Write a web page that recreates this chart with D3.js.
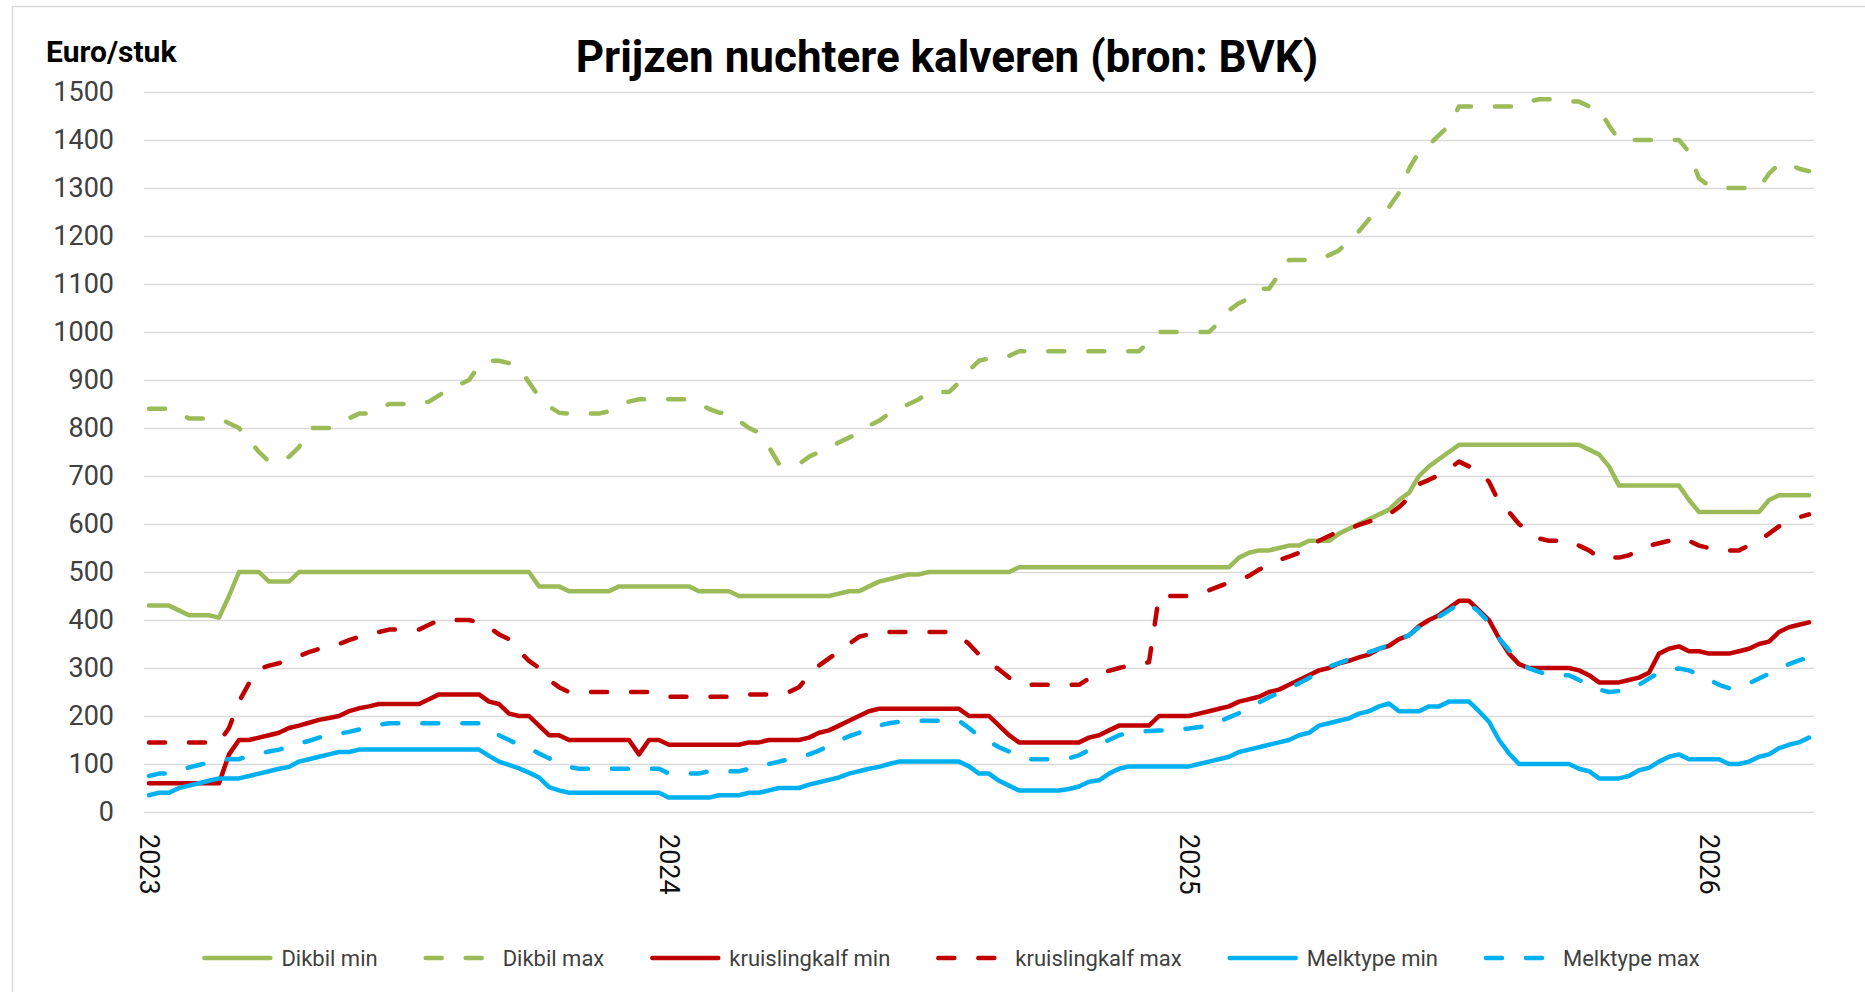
<!DOCTYPE html>
<html>
<head>
<meta charset="utf-8">
<script src="https://d3js.org/d3.v7.min.js"></script>
<style>
  body { margin: 0; background: #fff; }
  svg { display: block; font-family: Roboto, "Liberation Sans", Arial, sans-serif; }
  .gridlines line { stroke: #d9d9d9; stroke-width: 1.5; }
  .gridlines .domain { stroke: none; }
  .yaxis .domain { stroke: none; }
  .yaxis text { font-size: 27px; fill: #404040; font-family: Roboto, sans-serif; }
  .yearlabel { font-size: 27px; fill: #111; }
  .legend text { font-size: 22px; fill: #404040; }
  .series { fill: none; stroke-width: 4.5; stroke-linejoin: round; stroke-linecap: round; }
</style>
</head>
<body>
<svg id="chart" width="1865" height="992"></svg>
<script>
// weekly prices (euro/stuk), first week 2023 .. week 11 2026
const dikbilMin = [
  430,430,430,420,410,410,410,405,450,500,
  500,500,480,480,480,500,500,500,500,500,
  500,500,500,500,500,500,500,500,500,500,
  500,500,500,500,500,500,500,500,500,470,
  470,470,460,460,460,460,460,470,470,470,
  470,470,470,470,470,460,460,460,460,450,
  450,450,450,450,450,450,450,450,450,455,
  460,460,470,480,485,490,495,495,500,500,
  500,500,500,500,500,500,500,510,510,510,
  510,510,510,510,510,510,510,510,510,510,
  510,510,510,510,510,510,510,510,510,530,
  540,545,545,550,555,555,565,565,565,580,
  590,600,610,620,630,650,665,700,720,735,
  750,765,765,765,765,765,765,765,765,765,
  765,765,765,765,755,745,720,680,680,680,
  680,680,680,680,650,625,625,625,625,625,
  625,625,650,660,660,660,660
];
const dikbilMax = [
  840,840,840,830,820,820,820,820,810,800,
  775,750,730,730,740,760,800,800,800,810,
  820,830,830,840,850,850,850,850,855,868,
  880,890,900,930,940,940,935,925,895,865,
  845,832,830,830,830,830,835,845,855,860,
  860,860,860,860,860,850,840,832,830,815,
  800,790,760,725,725,725,740,750,760,770,
  780,790,805,815,830,840,850,860,875,875,
  875,895,920,940,945,950,950,960,960,960,
  960,960,960,960,960,960,960,960,960,960,
  980,1000,1000,1000,1000,1000,1000,1020,1045,1060,
  1070,1090,1090,1120,1150,1150,1150,1150,1160,1170,
  1190,1210,1235,1250,1260,1290,1340,1375,1390,1410,
  1430,1470,1470,1470,1470,1470,1470,1470,1480,1485,
  1485,1485,1480,1480,1470,1465,1430,1400,1400,1400,
  1400,1400,1400,1400,1375,1320,1305,1300,1300,1300,
  1300,1300,1330,1350,1350,1340,1335
];
const kruislingMin = [
  60,60,60,60,60,60,60,60,120,150,
  150,155,160,165,175,180,186,192,196,200,
  210,216,220,225,225,225,225,225,235,245,
  245,245,245,245,230,225,205,200,200,180,
  160,160,150,150,150,150,150,150,150,120,
  150,150,140,140,140,140,140,140,140,140,
  145,145,150,150,150,150,155,165,170,180,
  190,200,210,215,215,215,215,215,215,215,
  215,215,200,200,200,180,160,145,145,145,
  145,145,145,145,155,160,170,180,180,180,
  180,200,200,200,200,205,210,215,220,230,
  235,240,250,255,265,275,285,295,300,310,
  315,322,328,340,346,360,368,387,400,410,
  425,440,440,420,400,362,330,308,300,300,
  300,300,300,295,285,270,270,270,275,280,
  290,330,340,345,335,335,330,330,330,335,
  340,350,355,375,385,390,395
];
const kruislingMax = [
  145,145,145,145,145,145,145,145,175,230,
  268,298,305,310,318,325,333,340,345,350,
  358,365,370,375,380,380,380,380,390,400,
  400,400,400,395,385,370,360,335,315,300,
  275,260,250,250,250,250,250,250,250,250,
  250,246,240,240,240,240,240,240,240,240,
  245,245,245,250,250,260,285,305,320,335,
  350,365,370,375,375,375,375,375,375,375,
  375,368,350,328,312,297,280,268,265,265,
  265,265,265,265,278,290,294,300,305,308,
  312,450,450,450,450,455,462,470,478,483,
  492,505,515,525,532,540,555,565,575,585,
  590,598,605,612,620,635,655,683,692,702,
  715,730,720,710,688,646,625,600,584,570,
  565,565,566,555,545,530,530,530,535,545,
  555,560,565,570,565,555,550,545,545,545,
  555,565,580,595,605,614,620
];
const melktypeMin = [
  35,40,40,50,55,60,65,70,70,70,
  75,80,85,90,94,105,110,115,120,125,
  125,130,130,130,130,130,130,130,130,130,
  130,130,130,130,117,105,98,91,82,72,
  52,45,40,40,40,40,40,40,40,40,
  40,40,30,30,30,30,30,35,35,35,
  40,40,45,50,50,50,57,62,67,72,
  80,85,90,94,100,105,105,105,105,105,
  105,105,95,80,80,65,55,45,45,45,
  45,45,48,53,63,66,80,90,95,95,
  95,95,95,95,95,100,105,110,115,125,
  130,135,140,145,150,160,165,180,185,190,
  195,205,210,220,226,210,210,210,220,220,
  230,230,230,210,188,150,122,100,100,100,
  100,100,100,90,85,70,70,70,75,87,
  92,105,115,120,110,110,110,110,100,100,
  105,115,120,133,140,145,155
];
const melktypeMax = [
  75,80,80,85,93,98,103,107,110,110,
  117,122,126,130,136,143,148,155,160,163,
  167,172,178,182,185,185,185,185,185,185,
  185,185,185,185,172,160,150,140,133,122,
  112,102,94,90,90,90,90,90,90,90,
  90,90,80,80,80,80,85,85,85,85,
  90,90,100,105,110,115,120,128,138,148,
  158,165,175,180,185,188,190,190,190,190,
  190,190,175,158,147,135,126,118,110,110,
  110,110,112,118,129,140,150,160,165,167,
  169,170,170,172,174,177,180,188,197,206,
  217,228,239,248,258,268,279,293,303,310,
  318,325,333,340,348,360,368,385,397,407,
  420,434,434,417,395,362,337,313,299,292,
  285,285,285,275,265,255,250,252,254,265,
  278,290,296,299,295,285,276,265,258,260,
  268,278,288,300,308,316,322
];
const yearLabels = ["2023", "2024", "2025", "2026"];
const yearWeeks = [0, 52, 104, 156];
const yTicks = [0,100,200,300,400,500,600,700,800,900,1000,1100,1200,1300,1400,1500];

const series = [
  {name: "Dikbil min", values: dikbilMin, color: "#9bbb59", dashed: false},
  {name: "Dikbil max", values: dikbilMax, color: "#9bbb59", dashed: true},
  {name: "kruislingkalf min", values: kruislingMin, color: "#c00000", dashed: false},
  {name: "kruislingkalf max", values: kruislingMax, color: "#c00000", dashed: true},
  {name: "Melktype min", values: melktypeMin, color: "#00b0f0", dashed: false},
  {name: "Melktype max", values: melktypeMax, color: "#00b0f0", dashed: true}
];
const weeks = dikbilMin.map((d, i) => i);

const svg = d3.select("#chart");
const margin = {top: 92, right: 50, bottom: 180, left: 144};
const width = +svg.attr("width");
const height = +svg.attr("height");
const chartWidth = width - margin.left - margin.right - 1;
const chartHeight = height - margin.top - margin.bottom;

// chart frame
svg.append("rect")
  .attr("x", 12.5).attr("y", 6.5)
  .attr("width", 1900).attr("height", 1000)
  .attr("fill", "none").attr("stroke", "#d9d9d9").attr("stroke-width", 1.5);

const x = d3.scaleBand().domain(weeks).range([0, chartWidth]);
const xc = i => x(i) + x.bandwidth() / 2;
const y = d3.scaleLinear().domain([0, 1500]).range([chartHeight, 0]);

const plot = svg.append("g")
  .attr("transform", "translate(" + margin.left + "," + margin.top + ")");

let gridlines = d3.axisLeft(y).tickValues(yTicks).tickFormat("").tickSize(-chartWidth);
plot.append("g").attr("class", "gridlines").call(gridlines);

let leftAxis = d3.axisLeft(y).tickValues(yTicks).tickFormat(d3.format("d")).tickSize(0).tickPadding(30);
plot.append("g").attr("class", "yaxis").call(leftAxis);

// year labels, rotated
yearWeeks.forEach((w, k) => {
  plot.append("text")
    .attr("class", "yearlabel")
    .attr("transform", "translate(" + xc(w) + "," + (chartHeight + 22) + ") rotate(90)")
    .attr("dy", "0.35em")
    .text(yearLabels[k]);
});

const line = d3.line().x((d, i) => xc(i)).y(d => y(d));

series.forEach(s => {
  plot.append("path")
    .datum(s.values)
    .attr("class", "series")
    .attr("stroke", s.color)
    .attr("stroke-dasharray", s.dashed ? "16,24" : null)
    .attr("d", line);
});

// titles
svg.append("text")
  .attr("x", 947).attr("y", 72)
  .attr("text-anchor", "middle")
  .style("font-size", "44px").style("font-weight", "bold").style("fill", "#000")
  .text("Prijzen nuchtere kalveren (bron: BVK)");

svg.append("text")
  .attr("x", 46).attr("y", 62)
  .style("font-size", "30px").style("font-weight", "bold").style("fill", "#000")
  .text("Euro/stuk");

// legend
const legend = svg.append("g").attr("class", "legend");
let items = [];
series.forEach(s => {
  let g = legend.append("g");
  g.append("line")
    .attr("x1", 0).attr("x2", 66).attr("y1", 0).attr("y2", 0)
    .attr("stroke", s.color).attr("stroke-width", 4.5)
    .attr("stroke-linecap", "round")
    .attr("stroke-dasharray", s.dashed ? "16,24" : null);
  let t = g.append("text").attr("x", 77).attr("dy", "0.35em").text(s.name);
  items.push({g: g, w: 77 + t.node().getComputedTextLength()});
});
const itemGap = 48;
const total = d3.sum(items, d => d.w) + itemGap * (items.length - 1);
let cx = 952 - total / 2;
items.forEach(it => {
  it.g.attr("transform", "translate(" + cx + ",958)");
  cx += it.w + itemGap;
});
</script>
</body>
</html>
